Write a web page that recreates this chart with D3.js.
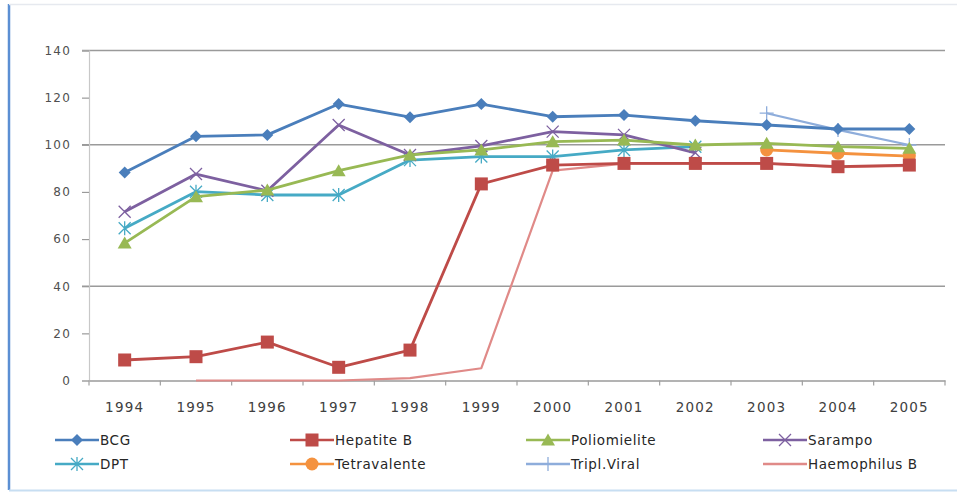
<!DOCTYPE html>
<html>
<head>
<meta charset="utf-8">
<script src="https://cdn.jsdelivr.net/npm/d3@7/dist/d3.min.js"></script>
<style>
  html, body { margin: 0; padding: 0; background: #ffffff; }
  svg { display: block; }
  text { font-family: "DejaVu Sans", "Liberation Sans", sans-serif; }
</style>
</head>
<body>
<svg id="chart" width="957" height="492"></svg>
<script>
// Vaccination coverage (%) by year
const years = ["1994","1995","1996","1997","1998","1999","2000","2001","2002","2003","2004","2005"];

const bcg          = [88.2, 103.6, 104.2, 117.3, 111.7, 117.3, 111.9, 112.6, 110.2, 108.4, 106.7, 106.7];
const hepatiteB    = [8.7, 10.1, 16.3, 5.6, 12.9, 83.4, 91.4, 92.1, 92.1, 92.1, 90.7, 91.4];
const poliomielite = [58.3, 78.0, 80.8, 89.0, 95.7, 97.8, 101.3, 102.0, 99.9, 100.6, 99.2, 98.5];
const sarampo      = [71.6, 87.6, 80.5, 108.4, 95.7, 99.5, 105.6, 104.2, 96.6, null, null, null];
const dpt          = [64.6, 80.1, 78.7, 78.7, 93.5, 95.0, 95.0, 97.8, 99.2, null, null, null];
const tetravalente = [null, null, null, null, null, null, null, null, null, 97.8, 96.4, 95.2];
const triplViral   = [null, null, null, null, null, null, null, null, null, 113.4, 106.3, 99.9];
const haemophilusB = [null, 0, 0, 0, 1.0, 5.2, 89.0, 92.0, 92.0, 92.0, 90.5, 91.0];

const yTicks = [0, 20, 40, 60, 80, 100, 120, 140];
const gridValues = [40, 100, 140];

const series = [
  { name: "BCG",           values: bcg,          color: "#4a7ebb", marker: "diamond" },
  { name: "Hepatite B",    values: hepatiteB,    color: "#be4b48", marker: "square" },
  { name: "Poliomielite",  values: poliomielite, color: "#98b954", marker: "triangle" },
  { name: "Sarampo",       values: sarampo,      color: "#7d60a0", marker: "x" },
  { name: "DPT",           values: dpt,          color: "#46aac5", marker: "star" },
  { name: "Tetravalente",  values: tetravalente, color: "#f4923f", marker: "circle" },
  { name: "Tripl.Viral",   values: triplViral,   color: "#8eaddb", marker: "plus" },
  { name: "Haemophilus B", values: haemophilusB, color: "#e08a88", marker: "none" }
];

const svg = d3.select("#chart");

// Frame around the chart
svg.append("line").attr("x1", 9).attr("x2", 9).attr("y1", 4).attr("y2", 490)
  .attr("stroke", "#5b8fd3").attr("stroke-width", 2.5);
svg.append("line").attr("x1", 9).attr("x2", 957).attr("y1", 4.5).attr("y2", 4.5)
  .attr("stroke", "#e6e9ef").attr("stroke-width", 1.5);
svg.append("line").attr("x1", 9).attr("x2", 957).attr("y1", 490.5).attr("y2", 490.5)
  .attr("stroke", "#c7def2").attr("stroke-width", 2);

const plot = { left: 89, right: 945, top: 50.5, bottom: 380.5 };

const x = d3.scaleBand().domain(years).range([plot.left, plot.right]).padding(0);
const y = d3.scaleLinear().domain([0, 140]).range([plot.bottom, plot.top]);

// Horizontal gridlines
svg.append("g").selectAll("line").data(gridValues).join("line")
  .attr("x1", plot.left - 7).attr("x2", plot.right)
  .attr("y1", d => y(d)).attr("y2", d => y(d))
  .attr("stroke", "#9a9a9a").attr("stroke-width", 1.6);

// Y axis
const yAxis = svg.append("g").attr("transform", `translate(${plot.left},0)`)
  .call(d3.axisLeft(y).tickValues(yTicks).tickSize(7).tickPadding(11));
yAxis.select(".domain").attr("stroke", "#c8c8c8").attr("stroke-width", 1.2);
yAxis.selectAll(".tick line").attr("stroke", "#9a9a9a").attr("stroke-width", 1.2);
yAxis.selectAll(".tick text")
  .attr("font-size", 12).attr("fill", "#505050").attr("letter-spacing", 1.2);

// X axis along zero
const xAxis = svg.append("g").attr("transform", `translate(0,${y(0)})`)
  .call(d3.axisBottom(x).tickSize(0).tickPadding(22));
xAxis.select(".domain").attr("stroke", "#9a9a9a").attr("stroke-width", 1.6);
xAxis.selectAll(".tick text")
  .attr("font-size", 13.5).attr("fill", "#404040").attr("letter-spacing", 1.2);
// Tick marks at the category boundaries
const boundaries = years.map(d => x(d)).concat([x(years[years.length - 1]) + x.bandwidth()]);
xAxis.append("g").selectAll("line").data(boundaries).join("line")
  .attr("x1", d => d).attr("x2", d => d).attr("y1", 0).attr("y2", 5)
  .attr("stroke", "#a0a0a0").attr("stroke-width", 1.2);

const cx = d => x(d) + x.bandwidth() / 2;

const line = d3.line()
  .defined(d => d.v !== null)
  .x(d => cx(d.year))
  .y(d => y(d.v));

// Marker drawing
function drawMarker(g, type, color, px, py) {
  switch (type) {
    case "diamond":
      g.append("path").attr("d", `M${px},${py - 6}L${px + 6},${py}L${px},${py + 6}L${px - 6},${py}Z`)
        .attr("fill", color);
      break;
    case "square":
      g.append("rect").attr("x", px - 6.5).attr("y", py - 6.5).attr("width", 13).attr("height", 13)
        .attr("fill", color);
      break;
    case "triangle":
      g.append("path").attr("d", `M${px},${py - 6.5}L${px + 7},${py + 5.5}L${px - 7},${py + 5.5}Z`)
        .attr("fill", color);
      break;
    case "circle":
      g.append("circle").attr("cx", px).attr("cy", py).attr("r", 6.5).attr("fill", color);
      break;
    case "x":
      g.append("path").attr("d", `M${px - 6},${py - 6}L${px + 6},${py + 6}M${px - 6},${py + 6}L${px + 6},${py - 6}`)
        .attr("stroke", color).attr("stroke-width", 1.3).attr("fill", "none");
      break;
    case "star":
      g.append("path").attr("d", `M${px - 6},${py - 6}L${px + 6},${py + 6}M${px - 6},${py + 6}L${px + 6},${py - 6}M${px},${py - 7}L${px},${py + 7}`)
        .attr("stroke", color).attr("stroke-width", 1.3).attr("fill", "none");
      break;
    case "plus":
      g.append("path").attr("d", `M${px - 7},${py}L${px + 7},${py}M${px},${py - 7}L${px},${py + 7}`)
        .attr("stroke", color).attr("stroke-width", 1.3).attr("fill", "none");
      break;
  }
}

// Draw in reverse so BCG ends up on top
const drawOrder = [7, 6, 5, 4, 3, 2, 1, 0];
drawOrder.forEach(i => {
  const s = series[i];
  const pts = years.map((yr, j) => ({ year: yr, v: s.values[j] }));
  const g = svg.append("g");
  g.append("path").datum(pts).attr("d", line)
    .attr("fill", "none").attr("stroke", s.color)
    .attr("stroke-width", s.name === "Haemophilus B" || s.name === "Tripl.Viral" ? 2.2 : 2.8)
    .attr("stroke-linejoin", "round");
  pts.filter(p => p.v !== null).forEach(p => drawMarker(g, s.marker, s.color, cx(p.year), y(p.v)));
});

// Legend: 4 columns x 2 rows
const legendCols = [55, 290, 526, 763];
const legendRows = [440, 464];
const legendOrder = [0, 1, 2, 3, 4, 5, 6, 7];
const legend = svg.append("g");
legendOrder.forEach((idx, k) => {
  const s = series[idx];
  const lx = legendCols[k % 4];
  const ly = legendRows[Math.floor(k / 4)];
  const g = legend.append("g");
  g.append("line").attr("x1", lx).attr("x2", lx + 44).attr("y1", ly).attr("y2", ly)
    .attr("stroke", s.color).attr("stroke-width", 2.6);
  drawMarker(g, s.marker, s.color, lx + 22, ly);
  g.append("text").attr("x", lx + 45).attr("y", ly).attr("dy", "0.36em")
    .attr("font-size", 13.5).attr("fill", "#262626").attr("letter-spacing", 0.6)
    .text(s.name);
});
</script>
</body>
</html>
